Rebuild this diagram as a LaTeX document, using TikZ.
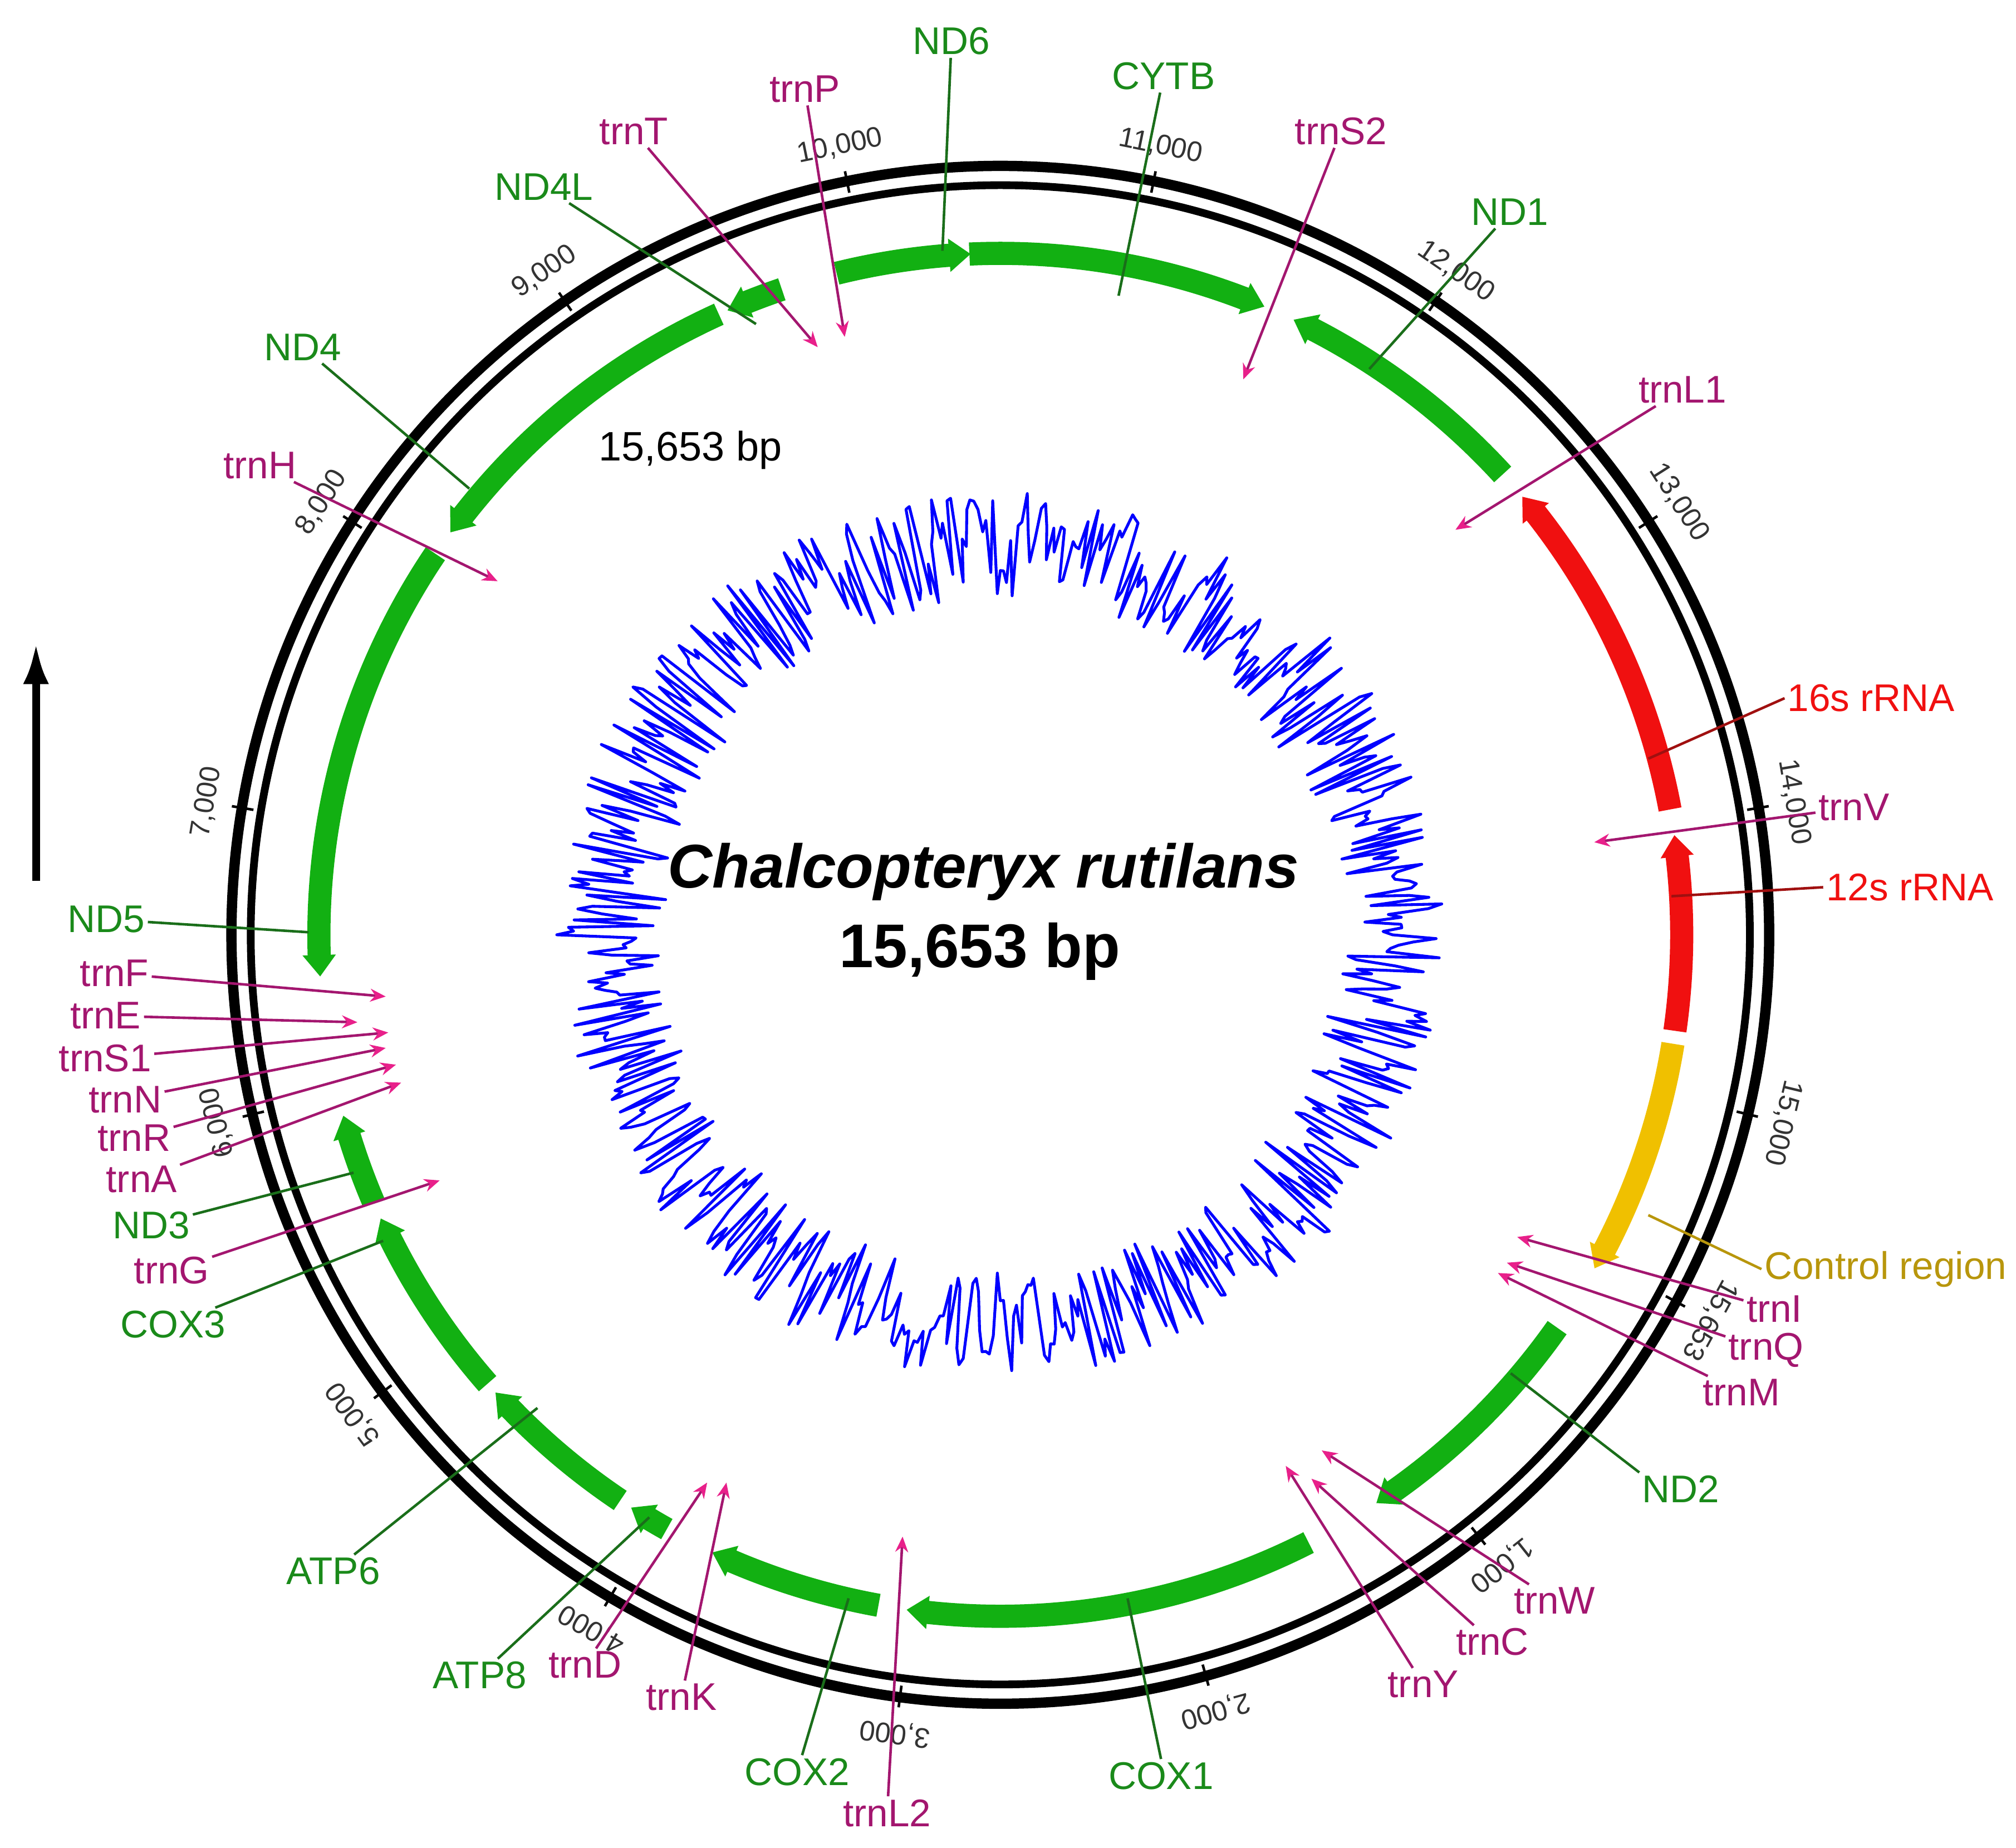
\documentclass[tikz,border=0pt]{standalone}
\usepackage{fontspec}
\setmainfont{Liberation Sans}
\usetikzlibrary{arrows.meta}
\definecolor{gfill}{HTML}{12B012}
\definecolor{gtxt}{HTML}{1A8A1A}
\definecolor{gln}{HTML}{1A6E1A}
\definecolor{ttxt}{HTML}{A3166F}
\definecolor{tarr}{HTML}{E8208A}
\definecolor{rfill}{HTML}{F01010}
\definecolor{rln}{HTML}{A01010}
\definecolor{cfill}{HTML}{F0C000}
\definecolor{ctxt}{HTML}{B8960C}
\newcommand\mygene[3]{%
 \pgfmathsetmacro\gb{#3-1.8*sign(#3-#2)}%
 \fill[#1] (#2:521) arc[start angle=#2,end angle=\gb,radius=521] -- (\gb:517) -- (#3:530) -- (\gb:543) -- (\gb:539) arc[start angle=\gb,end angle=#2,radius=539] -- cycle;}
\tikzset{
 lab/.style={font=\fontsize{15}{18}\selectfont, inner sep=1pt},
 gl/.style={lab, text=gtxt}, tl/.style={lab, text=ttxt},
 rl/.style={lab, text=rfill}, cl/.style={lab, text=ctxt},
 gline/.style={draw=gln, line width=1pt},
 rline/.style={draw=rln, line width=1pt},
 cline/.style={draw=ctxt, line width=1pt},
 tline/.style={draw=ttxt, line width=1pt, -{Stealth[length=6pt,width=5pt,color=tarr]}},
 tick/.style={font=\fontsize{11}{13}\selectfont, text=black!80, inner sep=0pt}
}
\begin{document}
\begin{tikzpicture}[x=0.5pt,y=-0.5pt]
\useasboundingbox (0,0) rectangle (1568,1437);
\begin{scope}[shift={(778,727)}, y=0.5pt]
 \draw[line width=4pt] (0,0) circle[radius=598];
 \draw[line width=3pt] (0,0) circle[radius=583];
 \foreach \k in {1,...,15}{
   \pgfmathsetmacro\a{-28.5-\k*23.0}
   \draw[line width=1pt] (\a:589) -- (\a:606);
   \node[tick, rotate=\a-90] at (\a:626) {\k,000};
 }
 \draw[line width=1pt] (-28.5:589) -- (-28.5:606);
 \node[tick, rotate=-118.5] at (-28.5:628) {15,653};
 \mygene{gfill}{-35.2}{-56.5}
 \mygene{gfill}{-63.1}{-97.9}
 \mygene{gfill}{-100.3}{-115}
 \mygene{gfill}{-119.3}{-122.8}
 \mygene{gfill}{-123.9}{-137.8}
 \mygene{gfill}{-138.8}{-155.4}
 \mygene{gfill}{-156.9}{-164.6}
 \mygene{gfill}{146}{183.5}
 \mygene{gfill}{114.4}{143.8}
 \mygene{gfill}{108.7}{113.6}
 \mygene{gfill}{103.9}{92.5}
 \mygene{gfill}{92.6}{67.2}
 \mygene{gfill}{42.5}{64.5}
 \mygene{rfill}{10.6}{40}
 \mygene{rfill}{-8.1}{8.4}
 \mygene{cfill}{-9.2}{-29.3}
 \pgfmathsetseed{7}
 \draw[blue, line width=1.1pt, line join=round] (0:305) \foreach \x in {0.5,1,...,359.5}{ \pgfextra{\pgfmathsetmacro\rr{303+42*rand}} -- (\x:\rr) } -- cycle;
\end{scope}
% title
\node[font=\fontsize{24}{28}\selectfont\bfseries\itshape] (title) at (765,678) {Chalcopteryx rutilans};
\node[font=\fontsize{24}{28}\selectfont\bfseries] (size) at (762,740) {15,653 bp};
\node[font=\fontsize{16}{19}\selectfont] (size2) at (537,350) {15,653 bp};
\coordinate (ar1) at (28,685); \coordinate (ar2) at (28,500);
\draw[line width=3pt, -{Latex[length=16pt,width=10pt]}] (ar1) -- (ar2);
% gene labels
\node[gl, anchor=west] (ND2) at (1275,1158) {ND2};
\node[gl, anchor=north] (COX1) at (903,1368) {COX1};
\node[gl, anchor=north] (COX2) at (620,1365) {COX2};
\node[gl, anchor=east] (ATP8) at (412,1303) {ATP8};
\node[gl, anchor=east] (ATP6) at (298,1222) {ATP6};
\node[gl, anchor=east] (COX3) at (178,1030) {COX3};
\node[gl, anchor=east] (ND3) at (150,953) {ND3};
\node[gl, anchor=east] (ND5) at (115,715) {ND5};
\node[gl, anchor=east] (ND4) at (268,270) {ND4};
\node[gl, anchor=south] (ND4L) at (423,158) {ND4L};
\node[gl, anchor=south] (ND6) at (740,45) {ND6};
\node[gl, anchor=south] (CYTB) at (905,72) {CYTB};
\node[gl, anchor=west] (ND1) at (1142,165) {ND1};
\node[rl, anchor=west] (r16) at (1388,543) {16s rRNA};
\node[rl, anchor=west] (r12) at (1418,690) {12s rRNA};
\node[cl, anchor=west] (CR) at (1370,987) {Control region};
\coordinate (pND2) at (1175,1068);
\coordinate (pCOX1) at (877,1243);
\coordinate (pCOX2) at (660,1243);
\coordinate (pATP8) at (505,1180);
\coordinate (pATP6) at (418,1095);
\coordinate (pCOX3) at (298,965);
\coordinate (pND3) at (275,912);
\coordinate (pND5) at (240,725);
\coordinate (pND4) at (365,380);
\coordinate (pND4L) at (588,252);
\coordinate (pND6) at (733,195);
\coordinate (pCYTB) at (870,230);
\coordinate (pND1) at (1065,287);
\coordinate (p16) at (1282,590);
\coordinate (p12) at (1300,697);
\coordinate (pCR) at (1282,945);
\foreach \g in {COX2,ATP8,ATP6,COX3,ND3,ND5,ND4,ND4L,ND6,CYTB,ND1}{
  \draw[gline] (p\g) -- (\g);
}
\draw[gline] (pND2) -- (ND2.north west);
\draw[gline] (pCOX1) -- (COX1.north);
\draw[rline] (p16) -- (r16.west);
\draw[rline] (p12) -- (r12.west);
\draw[cline] (pCR) -- (CR.west);
% tRNA labels
\node[tl, anchor=west] (trnI) at (1356,1018) {trnI};
\node[tl, anchor=west] (trnQ) at (1342,1050) {trnQ};
\node[tl, anchor=west] (trnM) at (1322,1083) {trnM};
\node[tl, anchor=west] (trnW) at (1175,1245) {trnW};
\node[tl, anchor=west] (trnC) at (1130,1277) {trnC};
\node[tl, anchor=west] (trnY) at (1077,1310) {trnY};
\node[tl, anchor=north] (trnL2) at (690,1397) {trnL2};
\node[tl, anchor=north] (trnK) at (530,1307) {trnK};
\node[tl, anchor=north] (trnD) at (455,1282) {trnD};
\node[tl, anchor=east] (trnG) at (165,988) {trnG};
\node[tl, anchor=east] (trnA) at (140,917) {trnA};
\node[tl, anchor=east] (trnR) at (135,885) {trnR};
\node[tl, anchor=east] (trnN) at (128,855) {trnN};
\node[tl, anchor=east] (trnS1) at (120,823) {trnS1};
\node[tl, anchor=east] (trnE) at (112,790) {trnE};
\node[tl, anchor=east] (trnF) at (118,757) {trnF};
\node[tl, anchor=east] (trnH) at (233,362) {trnH};
\node[tl, anchor=south] (trnT) at (493,115) {trnT};
\node[tl, anchor=south] (trnP) at (626,82) {trnP};
\node[tl, anchor=south] (trnS2) at (1043,115) {trnS2};
\node[tl, anchor=west] (trnL1) at (1272,303) {trnL1};
\node[tl, anchor=west] (trnV) at (1412,628) {trnV};
\coordinate (qtrnI) at (1180,962);
\coordinate (qtrnQ) at (1172,982);
\coordinate (qtrnM) at (1165,990);
\coordinate (qtrnW) at (1028,1128);
\coordinate (qtrnC) at (1020,1150);
\coordinate (qtrnY) at (1000,1140);
\coordinate (qtrnL2) at (702,1195);
\coordinate (qtrnK) at (565,1153);
\coordinate (qtrnD) at (550,1153);
\coordinate (qtrnG) at (342,918);
\coordinate (qtrnA) at (312,842);
\coordinate (qtrnR) at (308,828);
\coordinate (qtrnN) at (300,815);
\coordinate (qtrnS1) at (302,803);
\coordinate (qtrnE) at (278,795);
\coordinate (qtrnF) at (300,775);
\coordinate (qtrnH) at (387,452);
\coordinate (qtrnT) at (636,270);
\coordinate (qtrnP) at (657,262);
\coordinate (qtrnS2) at (967,295);
\coordinate (qtrnL1) at (1132,412);
\coordinate (qtrnV) at (1240,655);
\foreach \t in {trnI,trnQ,trnM,trnW,trnC,trnY,trnL2,trnK,trnD,trnG,trnA,trnR,trnN,trnS1,trnE,trnF,trnH,trnT,trnP,trnS2,trnL1,trnV}{
  \draw[tline] (\t) -- (q\t);
}
\end{tikzpicture}
\end{document}
